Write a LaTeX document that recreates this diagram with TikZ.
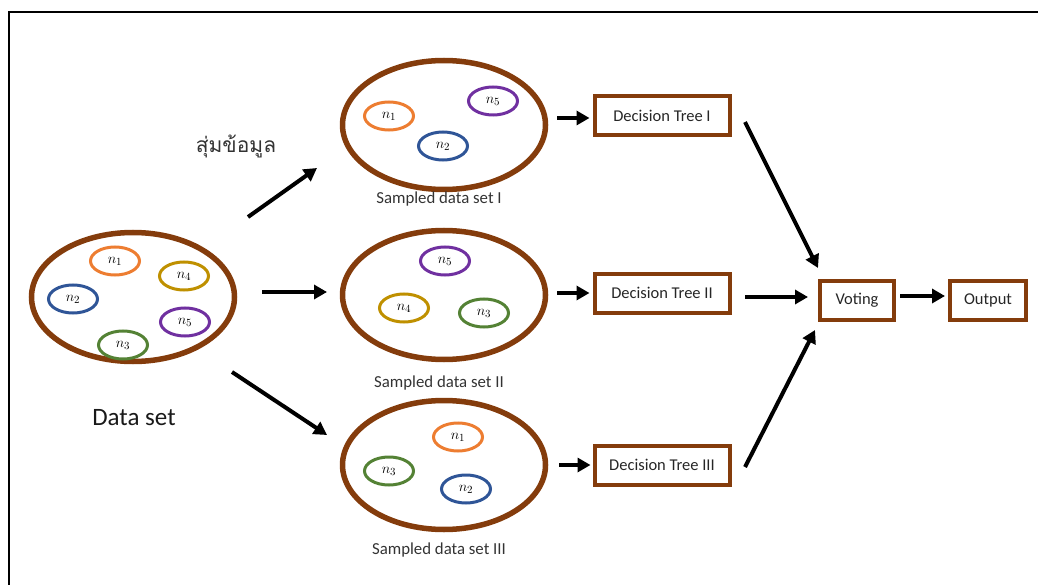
\documentclass[tikz,border=0pt]{standalone}
\usepackage{fontspec}
\setmainfont{Carlito}
\newfontfamily\thaifont[Script=Thai]{Loma}
\usetikzlibrary{shapes.geometric,arrows.meta,calc}

\definecolor{setbrown}{HTML}{843C0C}
\definecolor{ptorange}{HTML}{ED7D31}
\definecolor{ptgold}{HTML}{BF9000}
\definecolor{ptblue}{HTML}{2F5597}
\definecolor{ptpurple}{HTML}{7030A0}
\definecolor{ptgreen}{HTML}{548235}
\definecolor{labelgray}{HTML}{333333}

\tikzset{
  bigset/.style={ellipse, draw=setbrown, line width=5.5pt, minimum width=203pt, minimum height=129pt, inner sep=0pt},
  point/.style={ellipse, draw=#1, line width=3pt, minimum width=49pt, minimum height=28pt, inner sep=0pt, font=\fontsize{15}{16}\selectfont},
  stage/.style={rectangle, draw=setbrown, line width=4pt, minimum height=39pt, inner sep=0pt, font=\fontsize{16.5}{18}\selectfont, text=black!85},
  setlabel/.style={font=\fontsize{16.8}{18}\selectfont, text=labelgray},
  arr/.style={line width=4pt, -{Triangle[length=13pt,width=14pt]}},
}

\begin{document}
\begin{tikzpicture}[x=1pt,y=-1pt]
  \useasboundingbox (0,0) rectangle (1038,585);
  % open frame: top and left edges
  \draw[line width=2.6pt, line cap=rect] (1040,12) -- (9,12) -- (9,590);

  % full data set
  \node[bigset] (ds) at (133,297) {};
  \node[point=ptorange] (d1) at (115,261) {$n_1$};
  \node[point=ptgold]   (d4) at (184,276) {$n_4$};
  \node[point=ptblue]   (d2) at (73,299)  {$n_2$};
  \node[point=ptpurple] (d5) at (185,322) {$n_5$};
  \node[point=ptgreen]  (d3) at (123,345) {$n_3$};
  \node[font=\fontsize{25}{29}\selectfont, text=black!90] (dslabel) at (134,418) {Data set};
  \node[font=\thaifont\fontsize{21}{26}\selectfont, text=labelgray] (sample) at (236,146) {สุ่มข้อมูล};

  % bootstrap sample I
  \node[bigset] (s1) at (444,125) {};
  \node[point=ptorange] (s1a) at (389,116) {$n_1$};
  \node[point=ptpurple] (s1b) at (493,101) {$n_5$};
  \node[point=ptblue]   (s1c) at (443,146) {$n_2$};
  \node[setlabel] (l1) at (439,199) {Sampled data set I};

  % bootstrap sample II
  \node[bigset] (s2) at (444,295) {};
  \node[point=ptpurple] (s2a) at (445,261) {$n_5$};
  \node[point=ptgold]   (s2b) at (404,308) {$n_4$};
  \node[point=ptgreen]  (s2c) at (484,313) {$n_3$};
  \node[setlabel] (l2) at (439,383) {Sampled data set II};

  % bootstrap sample III
  \node[bigset] (s3) at (444,465) {};
  \node[point=ptorange] (s3a) at (458,437) {$n_1$};
  \node[point=ptgreen]  (s3b) at (389,471) {$n_3$};
  \node[point=ptblue]   (s3c) at (466,489) {$n_2$};
  \node[setlabel] (l3) at (439,550) {Sampled data set III};

  % trees, vote and result
  \node[stage, minimum width=135pt] (t1) at (662,116) {Decision Tree I};
  \node[stage, minimum width=135pt] (t2) at (662,293) {Decision Tree II};
  \node[stage, minimum width=135pt] (t3) at (662,465) {Decision Tree III};
  \node[stage, minimum width=74pt]  (vote) at (857,300) {Voting};
  \node[stage, minimum width=76pt]  (out) at (988,300) {Output};

  % sampling arrows
  \draw[arr] ($(ds.center)+(115,-80)$) -- ($(s1.center)+(-127,43)$);
  \draw[arr] ($(ds.center)+(129,-5)$)  -- ($(s2.center)+(-117,-3)$);
  \draw[arr] ($(ds.center)+(99,75)$)   -- ($(s3.center)+(-117,-30)$);

  % training arrows
  \draw[arr] ($(s1.center)+(113,-7)$) -- ($(t1.west)+(-3,2)$);
  \draw[arr] ($(s2.center)+(113,-2)$) -- ($(t2.west)+(-3,0)$);
  \draw[arr] ($(s3.center)+(115,0)$)  -- ($(t3.west)+(-2,0)$);

  % aggregation arrows
  \draw[arr] ($(t1.center)+(83,6)$) -- ($(vote.center)+(-39,-32)$);
  \draw[arr] ($(t2.center)+(83,4)$) -- ($(vote.center)+(-49,-3)$);
  \draw[arr] ($(t3.center)+(83,2)$) -- ($(vote.center)+(-42,30)$);
  \draw[arr] ($(vote.center)+(43,-4)$) -- ($(out.center)+(-43,-4)$);
\end{tikzpicture}
\end{document}
